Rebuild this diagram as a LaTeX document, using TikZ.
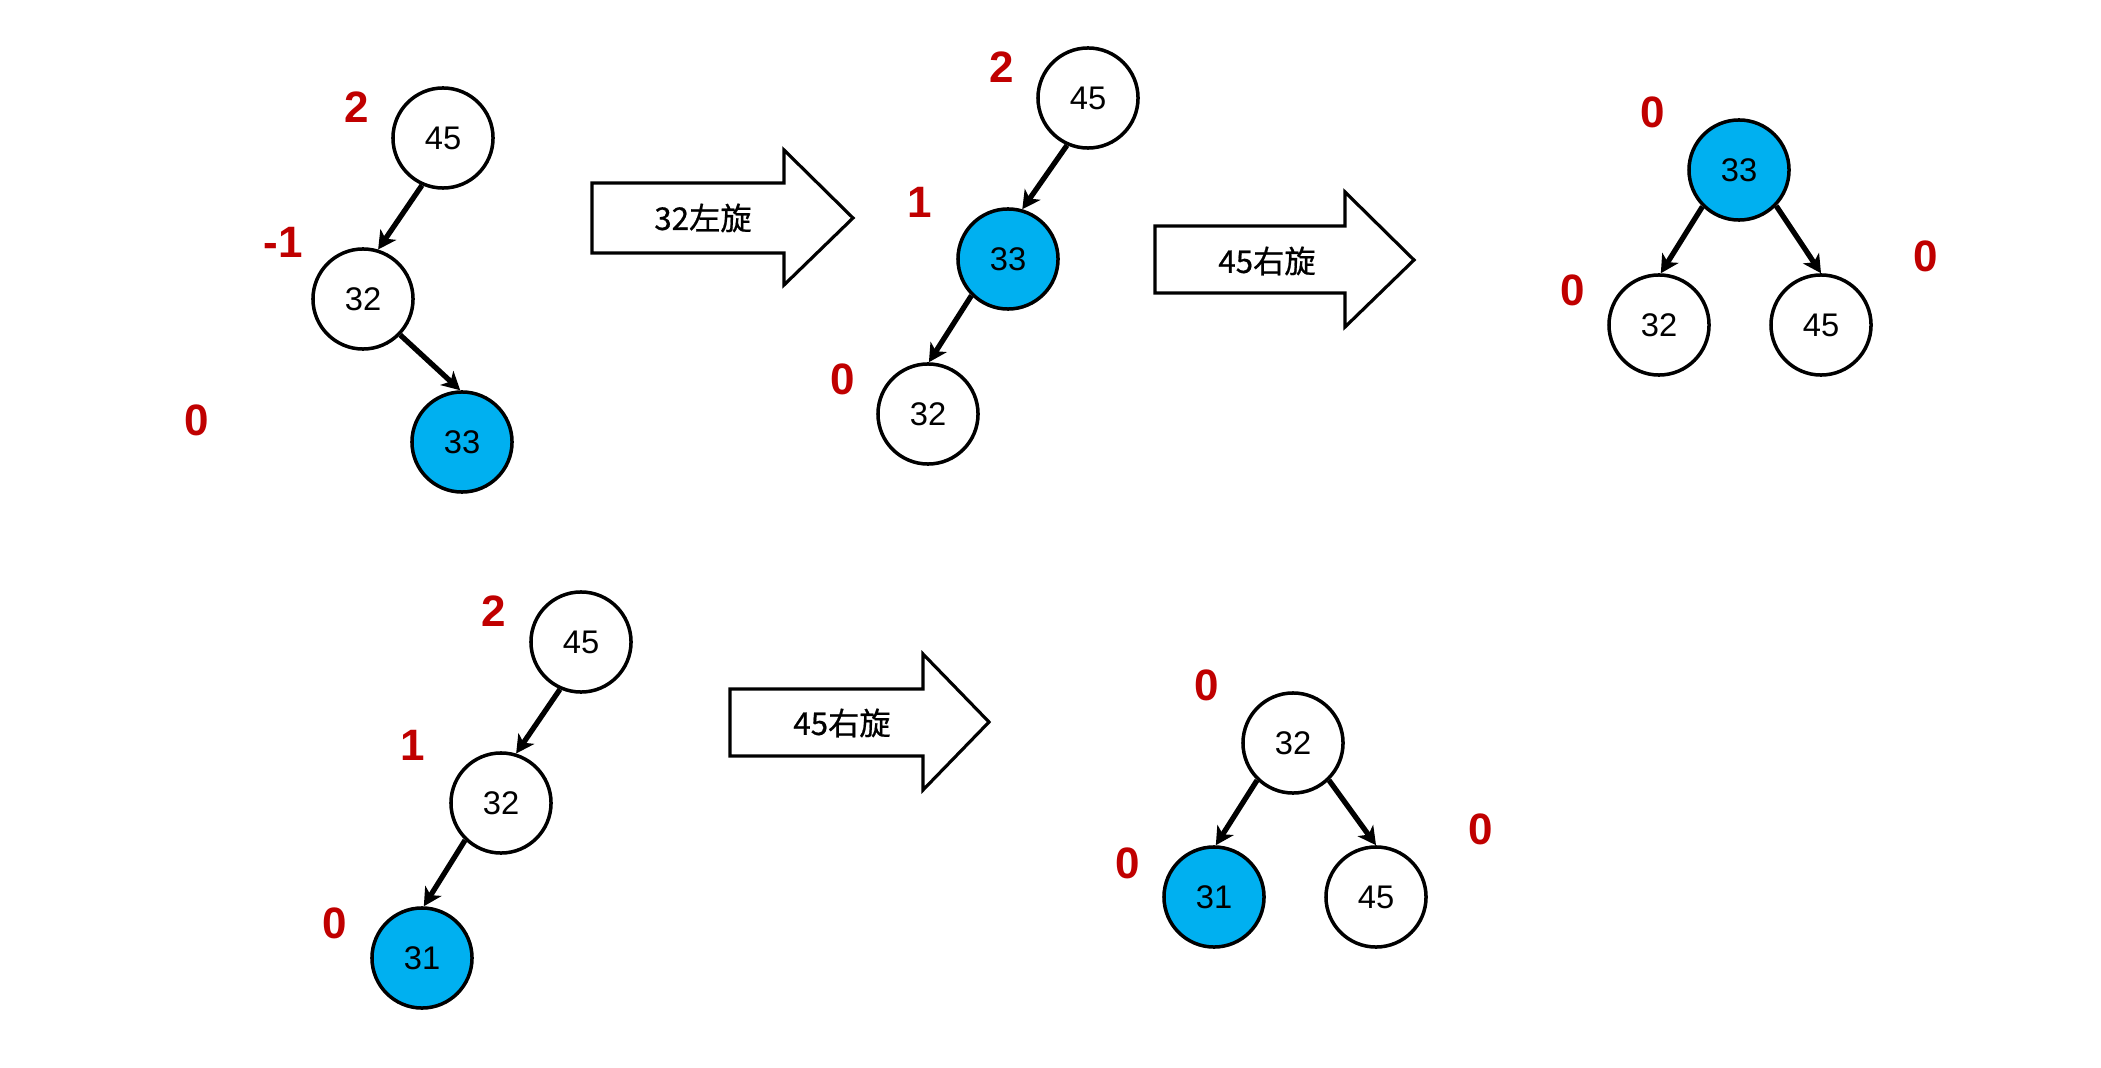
\documentclass[tikz,border=0pt]{standalone}
\usepackage{fontspec}
\setmainfont{Liberation Sans}
\newfontfamily\cjk[FakeBold=0.6]{Noto Sans CJK SC}
\usetikzlibrary{arrows.meta}
\definecolor{nodeblue}{HTML}{00B0F0}
\definecolor{balred}{HTML}{C00000}
\begin{document}
\begin{tikzpicture}[x=0.01cm,y=-0.01cm,
  tnode/.style={circle,draw=black,line width=1pt,fill=white,minimum size=1cm,inner sep=0pt,
    font=\fontsize{9.3}{10}\selectfont},
  hot/.style={tnode,fill=nodeblue},
  bal/.style={text=balred,inner sep=0pt,font=\fontsize{12.5}{14}\selectfont\bfseries},
  edge/.style={line width=1.5pt,-{Stealth[length=1.8mm,width=1.9mm,inset=0.5mm]}},
  bigarrow/.style={draw=black,line width=0.9pt,fill=white},
  arrowtext/.style={inner sep=0pt,font=\cjk\fontsize{8.9}{10}\selectfont}]
\useasboundingbox[fill=white] (0,0) rectangle (2101,1067);

% ---- tree 1 ----
\node[tnode] (a45) at (443,138) {45};
\node[tnode] (a32) at (363,299) {32};
\node[hot]   (a33) at (462,442) {33};
\node[bal] (la45) at (357,107) {2};
\node[bal] (la32) at (283,242) {-1};
\node[bal] (la33) at (197,420) {0};
\draw[edge] (a45.246) -- (a32.73);
\draw[edge] (a32.316) -- (a33.92);

% ---- arrow 1 ----
\draw[bigarrow] (592,183) -- (784,183) -- (784,150) -- (853,218) -- (784,285) -- (784,253) -- (592,253) -- cycle;
\node[arrowtext] (t1) at (703,218) {32左旋};

% ---- tree 2 ----
\node[tnode] (b45) at (1088,98) {45};
\node[hot]   (b33) at (1008,259) {33};
\node[tnode] (b32) at (928,414) {32};
\node[bal] (lb45) at (1002,67) {2};
\node[bal] (lb33) at (920,202) {1};
\node[bal] (lb32) at (843,379) {0};
\draw[edge] (b45.246) -- (b33.74);
\draw[edge] (b33.225) -- (b32.89);

% ---- arrow 2 ----
\draw[bigarrow] (1155,226) -- (1345,226) -- (1345,192) -- (1414,260) -- (1345,327) -- (1345,293) -- (1155,293) -- cycle;
\node[arrowtext] (t2) at (1267,261) {45右旋};

% ---- tree 3 ----
\node[hot]   (c33) at (1739,170) {33};
\node[tnode] (c32) at (1659,325) {32};
\node[tnode] (c45) at (1821,325) {45};
\node[bal] (lc33) at (1653,112) {0};
\node[bal] (lc32) at (1573,290) {0};
\node[bal] (lc45) at (1926,256) {0};
\draw[edge] (c33.225) -- (c32.88);
\draw[edge] (c33.316) -- (c45.90);

% ---- tree 4 ----
\node[tnode] (d45) at (581,642) {45};
\node[tnode] (d32) at (501,803) {32};
\node[hot]   (d31) at (422,958) {31};
\node[bal] (ld45) at (494,611) {2};
\node[bal] (ld32) at (413,745) {1};
\node[bal] (ld31) at (335,923) {0};
\draw[edge] (d45.246) -- (d32.73);
\draw[edge] (d32.226) -- (d31.88);

% ---- arrow 3 ----
\draw[bigarrow] (730,689) -- (923,689) -- (923,654) -- (989,722) -- (923,790) -- (923,756) -- (730,756) -- cycle;
\node[arrowtext] (t3) at (842,723) {45右旋};

% ---- tree 5 ----
\node[tnode] (e32) at (1293,743) {32};
\node[hot]   (e31) at (1214,897) {31};
\node[tnode] (e45) at (1376,897) {45};
\node[bal] (le32) at (1207,685) {0};
\node[bal] (le31) at (1128,863) {0};
\node[bal] (le45) at (1481,829) {0};
\draw[edge] (e32.226) -- (e31.88);
\draw[edge] (e32.314) -- (e45.90);
\end{tikzpicture}
\end{document}
